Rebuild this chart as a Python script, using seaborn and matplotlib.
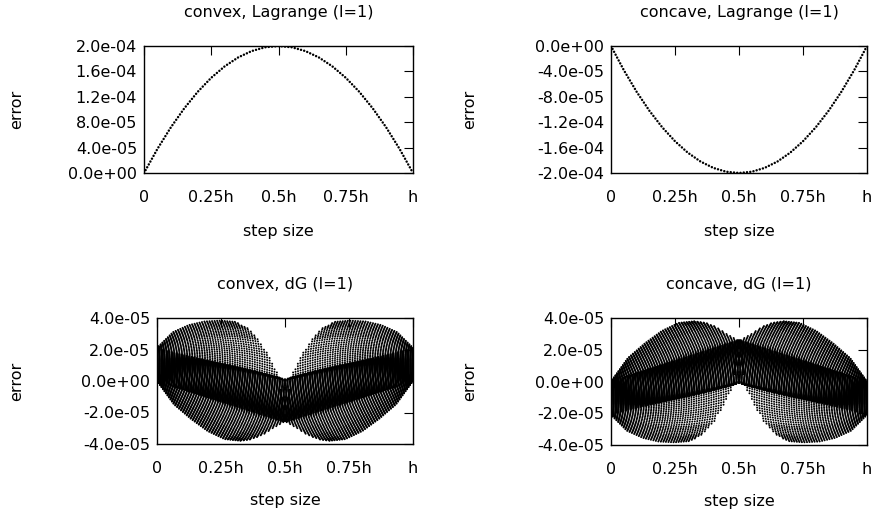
import numpy as np
import pandas as pd
import seaborn as sns
import matplotlib
matplotlib.use("Agg")
import matplotlib.pyplot as plt
from matplotlib.ticker import FuncFormatter

# --- data ---
# position inside one step, in units of h
lag_x = [0.0, 0.05, 0.1, 0.15, 0.2, 0.25, 0.3, 0.35, 0.4, 0.45, 0.5,
         0.55, 0.6, 0.65, 0.7, 0.75, 0.8, 0.85, 0.9, 0.95, 1.0]
# Lagrange (l=1) error of the convex case
lag_convex = [0.0, 0.38e-4, 0.72e-4, 1.02e-4, 1.28e-4, 1.50e-4, 1.68e-4, 1.82e-4, 1.92e-4, 1.98e-4, 2.0e-4,
              1.98e-4, 1.92e-4, 1.82e-4, 1.68e-4, 1.50e-4, 1.28e-4, 1.02e-4, 0.72e-4, 0.38e-4, 0.0]
lag_concave = [-v for v in lag_convex]

# dG (l=1): each half step is covered by two fans of dotted rows.
# guides read from the left half of the convex panel (y in 1e-5)
# upper fan: outer row bounds the upper dome, inner row runs (0,0) -> crossing point
up_t = [0.0, 0.08, 0.16, 0.25, 0.35, 0.5, 0.7, 0.85, 1.0]
up_start = [2.1, 1.95, 1.8, 1.6, 1.4, 1.1, 0.7, 0.35, 0.0]
up_end_x = [0.31, 0.36, 0.40, 0.44, 0.48, 0.515, 0.52, 0.51, 0.5]
up_end_y = [3.75, 3.3, 2.6, 1.5, 0.2, 0.0, -1.2, -2.0, -2.6]
up_bulge = [1.0, 0.9, 0.8, 0.65, 0.5, 0.35, 0.2, 0.08, 0.0]

# lower fan: outer row bounds the lower dome, inner row runs (0,2) -> bottom of the gap
lo_t = [0.0, 0.1, 0.2, 0.3, 0.4, 0.6, 0.8, 1.0]
lo_start = [0.0, 0.15, 0.3, 0.45, 0.6, 1.05, 1.5, 2.05]
lo_end_x = [0.33, 0.37, 0.41, 0.45, 0.5, 0.5, 0.49, 0.48]
lo_end_y = [-3.8, -3.7, -3.45, -3.05, -2.6, -1.8, -0.8, 0.2]
lo_bulge = [1.0, 0.9, 0.8, 0.65, 0.5, 0.3, 0.15, 0.0]

row_frac = [0.0, 0.2, 0.4, 0.6, 0.8, 1.0]
up_shape = [0.0, 0.67, 0.79, 0.69, 0.41, 0.0]
lo_shape = [0.0, -0.72, -0.88, -0.9, -0.65, 0.0]
n_rows = 72

x_ticks = [0, 0.25, 0.5, 0.75, 1.0]
x_ticklabels = ['0', '0.25h', '0.5h', '0.75h', 'h']


def dg_rows(sign):
    """rows of the dG panel, sign=+1 convex, -1 concave"""
    frames = []
    frac = np.array(row_frac)
    fams = [(up_t, up_start, up_end_x, up_end_y, up_bulge, up_shape),
            (lo_t, lo_start, lo_end_x, lo_end_y, lo_bulge, lo_shape)]
    rid = 0
    for t_g, s_g, ex_g, ey_g, b_g, shape in fams:
        for t in np.linspace(0, 1, n_rows):
            s0 = np.interp(t, t_g, s_g)
            ex = np.interp(t, t_g, ex_g)
            ey = np.interp(t, t_g, ey_g)
            b = np.interp(t, t_g, b_g)
            xs = ex * frac
            ys = s0 + (ey - s0) * frac + b * np.array(shape)
            for mirror in (False, True):
                xx = 1 - xs if mirror else xs
                frames.append(pd.DataFrame({'x': xx, 'y': sign * ys * 1e-5, 'row': rid}))
                rid += 1
    return pd.concat(frames, ignore_index=True)


# --- style ---
sns.set_style("white")
plt.rcParams['font.family'] = ['DejaVu Sans']
plt.rcParams['axes.unicode_minus'] = False
plt.rcParams['text.color'] = 'black'
plt.rcParams['axes.labelcolor'] = 'black'
FS = 11.5

fig = plt.figure(figsize=(8.74, 5.21), dpi=100)
W, H = 874.0, 521.0


def make_ax(l, r, t, b):
    return fig.add_axes([l / W, (H - b) / H, (r - l) / W, (b - t) / H])


ax_tl = make_ax(144, 413, 46, 173)
ax_tr = make_ax(611, 867, 46, 173)
ax_bl = make_ax(157, 413, 318, 444)
ax_br = make_ax(611, 867, 318, 445)

lag_dot = dict(color='black', lw=1.8, linestyle=(0, (0.01, 1.3)), dash_capstyle='round')
dg_dot = dict(color='black', lw=1.45, linestyle=(0, (0.01, 1.25)), dash_capstyle='round')

sns.lineplot(x=lag_x, y=lag_convex, ax=ax_tl, sort=False, legend=False, **lag_dot)
sns.lineplot(x=lag_x, y=lag_concave, ax=ax_tr, sort=False, legend=False, **lag_dot)

for ax, sign in ((ax_bl, 1), (ax_br, -1)):
    df = dg_rows(sign)
    sns.lineplot(data=df, x='x', y='y', units='row', estimator=None, sort=False,
                 legend=False, ax=ax, **dg_dot)

panels = [
    (ax_tl, 'convex, Lagrange (l=1)', (0, 2e-4), [0, 4e-5, 8e-5, 1.2e-4, 1.6e-4, 2e-4]),
    (ax_tr, 'concave, Lagrange (l=1)', (-2e-4, 0), [-2e-4, -1.6e-4, -1.2e-4, -8e-5, -4e-5, 0]),
    (ax_bl, 'convex, dG (l=1)', (-4e-5, 4e-5), [-4e-5, -2e-5, 0, 2e-5, 4e-5]),
    (ax_br, 'concave, dG (l=1)', (-4e-5, 4e-5), [-4e-5, -2e-5, 0, 2e-5, 4e-5]),
]
lab_x = {ax_tl: (24 - 144) / 269, ax_tr: (477 - 611) / 256,
         ax_bl: (24 - 157) / 256, ax_br: (477 - 611) / 256}
xlab_y = {ax_tl: -0.405, ax_tr: -0.405, ax_bl: -0.385, ax_br: -0.385}

for ax, title, ylim, yticks in panels:
    ax.set_xlim(0, 1)
    ax.set_ylim(*ylim)
    ax.set_xticks(x_ticks)
    ax.set_xticklabels(x_ticklabels)
    ax.set_yticks(yticks)
    ax.yaxis.set_major_formatter(FuncFormatter(lambda v, p: f"{0.0 if abs(v) < 1e-12 else v:.1e}"))
    ax.tick_params(direction='in', top=True, right=True, length=6.5, width=0.8,
                   colors='black', labelsize=FS)
    ax.tick_params(axis='x', pad=12)
    ax.tick_params(axis='y', pad=5)
    for sp in ax.spines.values():
        sp.set_color('black')
        sp.set_linewidth(1.0)
    ax.set_title(title, fontsize=FS, pad=21, color='black')
    ax.set_xlabel('step size', fontsize=FS)
    ax.set_ylabel('error', fontsize=FS)
    ax.yaxis.set_label_coords(lab_x[ax], 0.5)
    ax.xaxis.set_label_coords(0.5, xlab_y[ax])

fig.savefig('out.png', dpi=100)
